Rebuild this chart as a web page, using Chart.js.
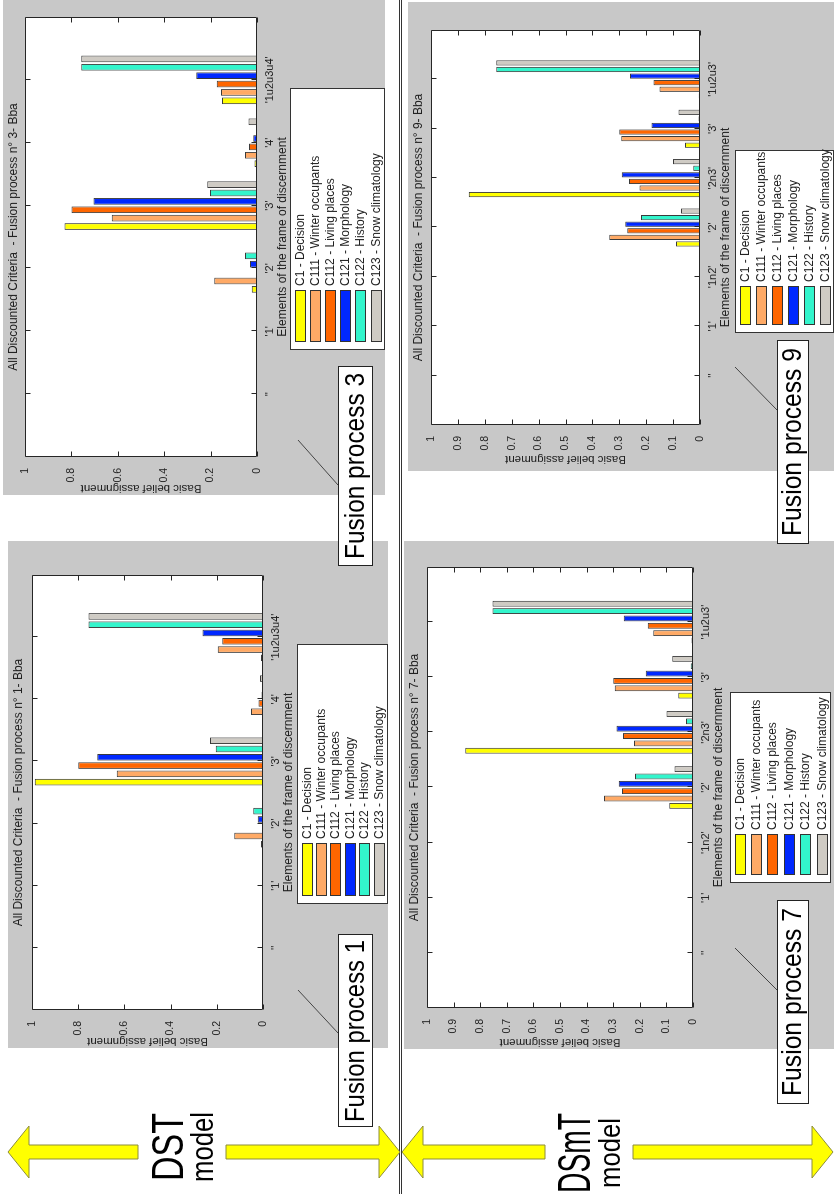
<!DOCTYPE html>
<html>
<head>
<meta charset="utf-8">
<script src="https://cdn.jsdelivr.net/npm/chart.js@4.4.1/dist/chart.umd.min.js"></script>
<style>
  html, body { margin: 0; padding: 0; background: #fff; }
  body { width: 834px; height: 1194px; overflow: hidden; position: relative; }
  /* the figure is a landscape sheet turned a quarter turn counter-clockwise */
  #sheet { position: absolute; left: 0; top: 0; width: 1194px; height: 834px;
           transform-origin: 0 0; transform: translate(0, 1194px) rotate(-90deg); }
  .panel { position: absolute; background: #c8c8c8; }
  .panel canvas { display: block; }
  #overlay { position: absolute; left: 0; top: 0; font-family: 'Liberation Sans', Arial, sans-serif; }
  .arr { fill: #ffff00; stroke: #8c8c3c; stroke-width: 1; }
  .fbox { fill: #fff; stroke: #222; stroke-width: 1; }
</style>
</head>
<body>
<div id="sheet">
  <div class="panel" style="left:146px;top:8px;width:507px;height:380px"><canvas id="fp1" width="507" height="380"></canvas></div>
  <div class="panel" style="left:699px;top:3px;width:495px;height:382px"><canvas id="fp3" width="495" height="382"></canvas></div>
  <div class="panel" style="left:145px;top:404px;width:508px;height:430px"><canvas id="fp7" width="508" height="430"></canvas></div>
  <div class="panel" style="left:723px;top:408px;width:469px;height:426px"><canvas id="fp9" width="469" height="426"></canvas></div>

  <svg id="overlay" width="1194" height="834">
    <line x1="0" y1="399.5" x2="1194" y2="399.5" stroke="#333" stroke-width="1"/>
    <line x1="0" y1="401.5" x2="1194" y2="401.5" stroke="#333" stroke-width="1"/>

    <polygon class="arr" points="42,8 68,29 49,29 49,138 35,138 35,29 16,29"/>
    <polygon class="arr" points="35,226 49,226 49,379 68,379 42,400 16,379 35,379"/>
    <polygon class="arr" points="42,402 68,423 49,423 49,545 35,545 35,423 16,423"/>
    <polygon class="arr" points="35,633 49,633 49,812 68,812 42,833 16,812 35,812"/>

    <text x="47" y="183" font-size="44" text-anchor="middle" textLength="68" lengthAdjust="spacingAndGlyphs">DST</text>
    <text x="47" y="213" font-size="31" text-anchor="middle" textLength="70" lengthAdjust="spacingAndGlyphs">model</text>
    <text x="41" y="590" font-size="46" text-anchor="middle" textLength="80" lengthAdjust="spacingAndGlyphs">DSmT</text>
    <text x="41" y="620" font-size="30" text-anchor="middle" textLength="70" lengthAdjust="spacingAndGlyphs">model</text>

    <line x1="204" y1="298" x2="161" y2="338" stroke="#444"/>
    <line x1="754" y1="298" x2="709" y2="338" stroke="#444"/>
    <line x1="246" y1="735" x2="204" y2="777" stroke="#444"/>
    <line x1="827" y1="735" x2="784" y2="777" stroke="#444"/>

    <rect class="fbox" x="67.5" y="338.5" width="192" height="34"/>
    <text x="163" y="364" font-size="28" text-anchor="middle" textLength="182" lengthAdjust="spacingAndGlyphs">Fusion process 1</text>
    <rect class="fbox" x="628.5" y="338.5" width="199" height="34"/>
    <text x="728" y="364" font-size="28" text-anchor="middle" textLength="186" lengthAdjust="spacingAndGlyphs">Fusion process 3</text>
    <rect class="fbox" x="90.5" y="777.5" width="203" height="31"/>
    <text x="192" y="801" font-size="28" text-anchor="middle" textLength="188" lengthAdjust="spacingAndGlyphs">Fusion process 7</text>
    <rect class="fbox" x="650.5" y="777.5" width="203" height="31"/>
    <text x="752" y="801" font-size="28" text-anchor="middle" textLength="188" lengthAdjust="spacingAndGlyphs">Fusion process 9</text>
  </svg>
</div>

<script>
Chart.defaults.font.family = "'Liberation Sans', Arial, sans-serif";

// elements of the frame of discernment
const dstCats = ["''", "'1'", "'2'", "'3'", "'4'", "'1u2u3u4'"];
const dsmtCats = ["''", "'1'", "'1n2'", "'2'", "'2n3'", "'3'", "'1u2u3'"];

const criteria = ['C1 - Decision', 'C111 - Winter occupants', 'C112 - Living places',
                  'C121 - Morphology', 'C122 - History', 'C123 - Snow climatology'];
const criteriaColors = ['#ffff00', '#ffaa66', '#ff6600', '#0028ff', '#33f5cc', '#cfcbc4'];

const dstTicks = [0, 0.2, 0.4, 0.6, 0.8, 1];
const dsmtTicks = [0, 0.1, 0.2, 0.3, 0.4, 0.5, 0.6, 0.7, 0.8, 0.9, 1];

// basic belief assignment, one row per criterion (C1 ... C123)
const fp1Bba = [
  [0, 0, 0.009, 0.988, 0.002, 0.009],
  [0, 0, 0.124, 0.633, 0.052, 0.196],
  [0, 0, 0.001, 0.800, 0.020, 0.176],
  [0, 0, 0.023, 0.717, 0.006, 0.262],
  [0, 0, 0.042, 0.205, 0.001, 0.755],
  [0, 0, 0.002, 0.229, 0.013, 0.755]
];
const fp3Bba = [
  [0, 0, 0.023, 0.830, 0.011, 0.151],
  [0, 0, 0.184, 0.626, 0.052, 0.155],
  [0, 0, 0.001, 0.800, 0.034, 0.174],
  [0, 0, 0.030, 0.705, 0.016, 0.262],
  [0, 0, 0.052, 0.203, 0.001, 0.758],
  [0, 0, 0.003, 0.214, 0.037, 0.758]
];
const fp7Bba = [
  [0, 0, 0, 0.089, 0.856, 0.055, 0.006],
  [0, 0, 0, 0.335, 0.222, 0.294, 0.149],
  [0, 0, 0, 0.267, 0.263, 0.300, 0.170],
  [0, 0, 0, 0.279, 0.288, 0.178, 0.260],
  [0, 0, 0, 0.218, 0.026, 0.008, 0.754],
  [0, 0, 0, 0.070, 0.100, 0.078, 0.754]
];
const fp9Bba = [
  [0, 0, 0, 0.089, 0.860, 0.056, 0.005],
  [0, 0, 0, 0.337, 0.225, 0.293, 0.151],
  [0, 0, 0, 0.270, 0.264, 0.300, 0.173],
  [0, 0, 0, 0.278, 0.291, 0.180, 0.260],
  [0, 0, 0, 0.219, 0.025, 0.006, 0.757],
  [0, 0, 0, 0.071, 0.100, 0.080, 0.757]
];

// white axes box with MATLAB style inward ticks on all four sides
const matlabAxes = {
  id: 'matlabAxes',
  beforeDatasetsDraw(chart) {
    const {ctx, chartArea: a} = chart;
    ctx.save();
    ctx.fillStyle = '#fff';
    ctx.fillRect(a.left, a.top, a.right - a.left, a.bottom - a.top);
    ctx.restore();
  },
  afterDatasetsDraw(chart) {
    const {ctx, chartArea: a, scales: {x, y}} = chart;
    const l = Math.round(a.left) + 0.5, r = Math.round(a.right) - 0.5;
    const t = Math.round(a.top) + 0.5, b = Math.round(a.bottom) - 0.5;
    ctx.save();
    ctx.strokeStyle = '#262626';
    ctx.lineWidth = 1;
    ctx.beginPath();
    ctx.rect(l, t, r - l, b - t);
    x.ticks.forEach(tk => {
      const px = Math.round(x.getPixelForValue(tk.value)) + 0.5;
      ctx.moveTo(px, b); ctx.lineTo(px, b - 5);
      ctx.moveTo(px, t); ctx.lineTo(px, t + 5);
    });
    y.ticks.forEach(tk => {
      const py = Math.round(y.getPixelForValue(tk.value)) + 0.5;
      ctx.moveTo(l, py); ctx.lineTo(l + 5, py);
      ctx.moveTo(r, py); ctx.lineTo(r - 5, py);
    });
    ctx.stroke();
    ctx.restore();
  }
};

// boxed legend sitting under the axes, one row per criterion
const matlabLegend = {
  id: 'matlabLegend',
  afterDraw(chart, args, opts) {
    const {ctx} = chart;
    const {x, y, w, h, swatch} = opts;
    const pitch = (h - 19) / 5;
    ctx.save();
    ctx.fillStyle = '#fff';
    ctx.fillRect(x, y, w, h);
    ctx.strokeStyle = '#333';
    ctx.lineWidth = 1;
    ctx.strokeRect(x + 0.5, y + 0.5, w - 1, h - 1);
    ctx.font = "12px 'Liberation Sans', Arial, sans-serif";
    ctx.textBaseline = 'middle';
    chart.data.datasets.forEach((ds, i) => {
      const cy = Math.round(y + 9.5 + i * pitch);
      ctx.fillStyle = ds.backgroundColor;
      ctx.fillRect(x + 8, cy - 5, swatch, 11);
      ctx.strokeStyle = '#333';
      ctx.strokeRect(x + 8.5, cy - 4.5, swatch, 10);
      ctx.fillStyle = '#222';
      ctx.fillText(ds.label, x + 8 + swatch + 5, cy + 1);
    });
    ctx.restore();
  }
};

function makeChart(id, num, cats, bba, valueTicks, box, legendBox) {
  const canvas = document.getElementById(id);
  const W = canvas.width, H = canvas.height;
  const {left, top, right, bottom, padLeft} = box;
  const xAxisHeight = 34;

  return new Chart(canvas, {
    type: 'bar',
    data: {
      datasets: bba.map((vals, k) => ({
        label: criteria[k],
        data: vals.map((v, i) => ({x: i + 1, y: v})),
        backgroundColor: criteriaColors[k],
        borderColor: '#3a3a3a',
        borderWidth: 1,
        categoryPercentage: 0.8,
        barPercentage: 0.8
      }))
    },
    options: {
      responsive: false,
      animation: false,
      layout: { padding: { left: padLeft, right: W - right, top: 0, bottom: H - bottom - xAxisHeight } },
      plugins: {
        legend: { display: false },
        tooltip: { enabled: false },
        title: {
          display: true,
          fullSize: false,
          text: 'All Discounted Criteria  - Fusion process n\u00b0 ' + num + '- Bba',
          color: '#222',
          font: { size: 12, weight: 'normal' },
          padding: { top: 3, bottom: top - 17.4 }
        },
        matlabLegend: legendBox
      },
      scales: {
        x: {
          type: 'linear',
          min: 0,
          max: cats.length + 1,
          offset: false,
          grid: { display: false, offset: false },
          border: { display: false },
          afterBuildTicks: s => { s.ticks = cats.map((c, i) => ({ value: i + 1 })); },
          afterFit: s => { s.height = xAxisHeight; },
          ticks: { autoSkip: false, maxRotation: 0, padding: -2, color: '#222', font: { size: 11 },
                   callback: (v, i) => cats[i] },
          title: { display: true, text: 'Elements of the frame of discernment', color: '#222',
                   font: { size: 12 }, padding: { top: 0, bottom: 1 } }
        },
        y: {
          min: 0,
          max: 1,
          grid: { display: false },
          border: { display: false },
          afterBuildTicks: s => { s.ticks = valueTicks.map(v => ({ value: v })); },
          afterFit: s => { s.width = left - padLeft; },
          ticks: { padding: 3, color: '#222', font: { size: 10.5 }, callback: v => String(v) },
          title: { display: true, text: 'Basic belief assignment', color: '#222',
                   font: { size: 11.5 }, padding: { top: 0, bottom: 0 } }
        }
      }
    },
    plugins: [matlabAxes, matlabLegend]
  });
}

makeChart('fp1', 1, dstCats, fp1Bba, dstTicks,
  { left: 38, top: 24, right: 473, bottom: 255, padLeft: 0 },
  { x: 144, y: 289, w: 260, h: 91, swatch: 52 });
makeChart('fp3', 3, dstCats, fp3Bba, dstTicks,
  { left: 38, top: 22, right: 478, bottom: 254, padLeft: 0 },
  { x: 145, y: 287, w: 262, h: 95, swatch: 51 });
makeChart('fp7', 7, dsmtCats, fp7Bba, dsmtTicks,
  { left: 41, top: 23, right: 482, bottom: 289, padLeft: 0 },
  { x: 166, y: 326, w: 191, h: 101, swatch: 40 });
makeChart('fp9', 9, dsmtCats, fp9Bba, dsmtTicks,
  { left: 46, top: 23, right: 441, bottom: 292, padLeft: 5 },
  { x: 138, y: 327, w: 183, h: 99, swatch: 38 });
</script>
</body>
</html>
